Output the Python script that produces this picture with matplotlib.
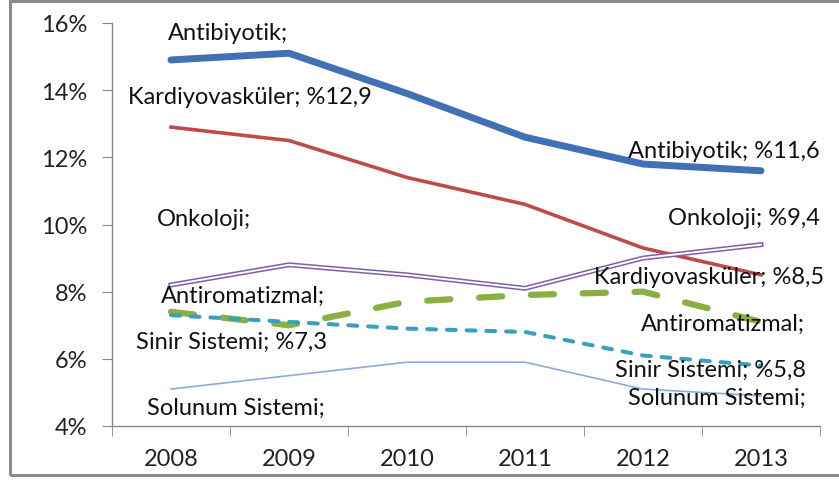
import matplotlib.pyplot as plt
from matplotlib.patches import Rectangle
from matplotlib.ticker import FuncFormatter, MultipleLocator

plt.rcParams['font.family'] = ['Lato', 'DejaVu Sans']

years = ['2008', '2009', '2010', '2011', '2012', '2013']

antibiyotik = [14.9, 15.1, 13.9, 12.6, 11.8, 11.6]
kardiyovaskuler = [12.9, 12.5, 11.4, 10.6, 9.3, 8.5]
onkoloji = [8.2, 8.8, 8.5, 8.1, 9.0, 9.4]
antiromatizmal = [7.4, 7.0, 7.7, 7.9, 8.0, 7.1]
sinir_sistemi = [7.3, 7.1, 6.9, 6.8, 6.1, 5.8]
solunum_sistemi = [5.1, 5.5, 5.9, 5.9, 5.1, 4.9]

# labels shown at first / last point (Excel cut some values off)
left_labels = ['Antibiyotik;', 'Kardiyovasküler; %12,9', 'Onkoloji;',
               'Antiromatizmal;', 'Sinir Sistemi; %7,3', 'Solunum Sistemi;']
right_labels = ['Antibiyotik; %11,6', 'Onkoloji; %9,4', 'Kardiyovasküler; %8,5',
                'Antiromatizmal;', 'Sinir Sistemi; %5,8', 'Solunum Sistemi;']

fig = plt.figure(figsize=(8.39, 4.85), dpi=100)
ax = fig.add_axes([112 / 839, 58 / 485, 708 / 839, 403 / 485])

x = list(range(len(years)))

ax.plot(x, antibiyotik, color='#4171B4', lw=5, solid_capstyle='round', solid_joinstyle='round')
ax.plot(x, kardiyovaskuler, color='#BE4B48', lw=2.6, solid_joinstyle='round')
ax.plot(x, onkoloji, color='#7F5FA6', lw=3.6, solid_joinstyle='round')
ax.plot(x, onkoloji, color='white', lw=1.4, solid_joinstyle='round')
ax.plot(x, antiromatizmal, color='#8AAF43', lw=4.5, dashes=(3.7, 4.6), dash_capstyle='round')
ax.plot(x, sinir_sistemi, color='#38A0BE', lw=2.9, dashes=(2.2, 2.7), dash_capstyle='round')
ax.plot(x, solunum_sistemi, color='#8EA9DB', lw=1.2)

ax.set_xlim(-0.5, 5.5)
ax.set_ylim(4, 16)
ax.yaxis.set_major_locator(MultipleLocator(2))
ax.yaxis.set_major_formatter(FuncFormatter(lambda v, p: f'{v:.0f}%'))
ax.set_xticks(x)
ax.set_xticklabels(years)
ax.set_xticks([i + 0.5 for i in range(-1, 6)], minor=True)
ax.tick_params(axis='x', which='major', length=0, pad=16, labelsize=17, colors='#222222')
ax.tick_params(axis='x', which='minor', length=7, color='#888888')
ax.tick_params(axis='y', length=7, color='#888888', labelsize=17, colors='#222222', pad=11)

for s in ['top', 'right']:
    ax.spines[s].set_visible(False)
for s in ['left', 'bottom']:
    ax.spines[s].set_color('#888888')
    ax.spines[s].set_linewidth(1)

# label centres / right edges in pixels
left_pos = [(228, 33), (250, 98), (204, 220), (243, 296), (232, 342), (236, 408)]
for text, (px, py) in zip(left_labels, left_pos):
    fig.text(px / 839, 1 - py / 485, text, ha='center', va='center', fontsize=17, color='#111111')

right_pos = [(820, 152), (820, 219), (824, 278), (805, 324), (806, 370), (806, 398)]
for text, (px, py) in zip(right_labels, right_pos):
    fig.text(px / 839, 1 - py / 485, text, ha='right', va='center', fontsize=17, color='#111111')

# outer chart border
fig.patches.append(Rectangle((10 / 839, 9 / 485), 1.0, 474 / 485, transform=fig.transFigure,
                             fill=False, edgecolor='#8c8c8c', lw=2.2))

fig.savefig('out.png', dpi=100)
